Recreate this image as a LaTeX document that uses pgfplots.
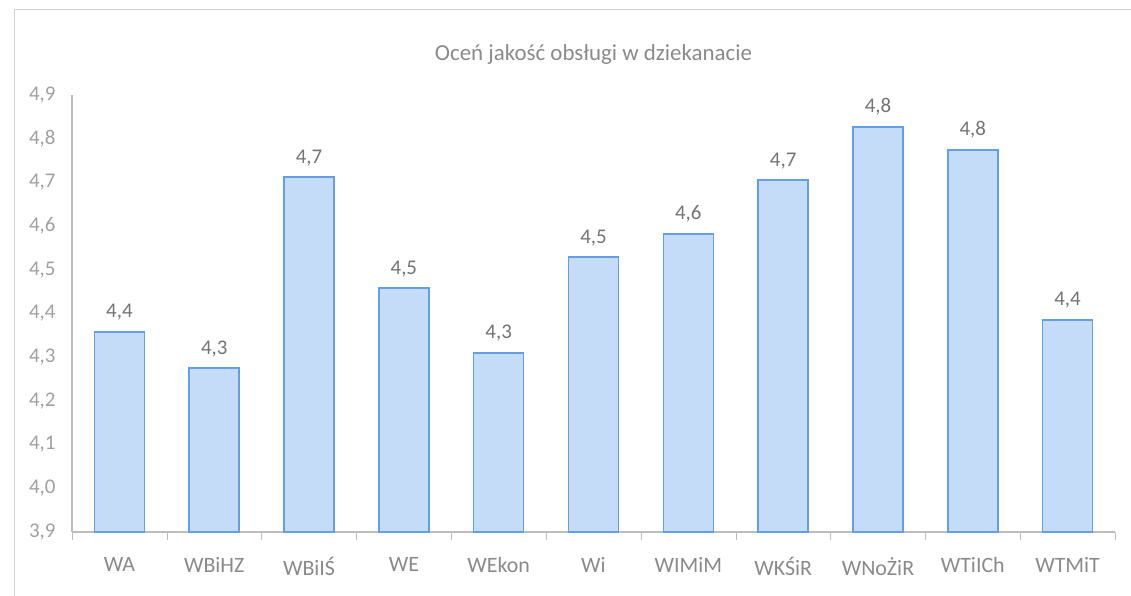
\documentclass[border=0pt]{standalone}
\usepackage{fontspec}
\setmainfont{Carlito}
\usepackage{pgfplots}
\pgfplotsset{compat=1.18}
\definecolor{barfill}{HTML}{C4DCF7}
\definecolor{barline}{HTML}{639FE6}
\definecolor{txt}{HTML}{8A8A8A}
\definecolor{ytxt}{HTML}{A0A0A0}
\definecolor{lbl}{HTML}{747474}
\definecolor{axln}{HTML}{BDBDBD}
\begin{document}
\begin{tikzpicture}
\path[use as bounding box] (0,0) rectangle (565.5bp,298bp);
% faint frame of the scanned chart
\draw[axln!70, line width=0.5bp] (7bp,0) -- (7bp,293bp) -- (565.5bp,293bp);
\begin{axis}[
    at={(36bp,32bp)}, anchor=south west,
    scale only axis,
    width=521.5bp, height=218.5bp,
    ybar, bar width=25bp,
    xmin=-0.5, xmax=10.5,
    ymin=3.9, ymax=4.9,
    ytick={3.9,4.0,...,4.91},
    xtick={0,...,10},
    xticklabels={WA,WBiHZ,WBiIŚ,WE,WEkon,Wi,WIMiM,WKŚiR,WNoŻiR,WTiICh,WTMiT},
    minor xtick={-0.5,0.5,...,10.5},
    major x tick style={draw=none},
    minor x tick style={axln},
    minor tick length=4bp,
    y tick style={draw=none},
    tick align=outside,
    axis line style={axln, line width=0.6bp},
    axis x line*=bottom, axis y line*=left,
    x axis line style={-},
    y axis line style={-},
    tick label style={font=\fontsize{10.5}{12}\selectfont, text=txt},
    xticklabel style={font=\fontsize{11}{13}\selectfont, text=txt, yshift=-5bp},
    yticklabel style={xshift=-0.5bp, text=ytxt},
    /pgf/number format/.cd, fixed, fixed zerofill, precision=1, use comma, assume math mode=true,
    /pgfplots/.cd,
    nodes near coords,
    nodes near coords style={font=\fontsize{10.5}{12}\selectfont, text=lbl, yshift=2bp,
        /pgf/number format/.cd, fixed, fixed zerofill, precision=1, use comma, assume math mode=true},
    title={Oceń jakość obsługi w dziekanacie},
    title style={font=\fontsize{11.5}{14}\selectfont, text=txt, at={(0.5,1)}, yshift=6bp},
    clip=false,
]
\addplot[fill=barfill, draw=barline, line width=0.8bp] coordinates {
  (0,4.358) (1,4.275) (2,4.712) (3,4.458) (4,4.31) (5,4.529)
  (6,4.582) (7,4.705) (8,4.827) (9,4.774) (10,4.385)};
\end{axis}
\end{tikzpicture}
\end{document}
